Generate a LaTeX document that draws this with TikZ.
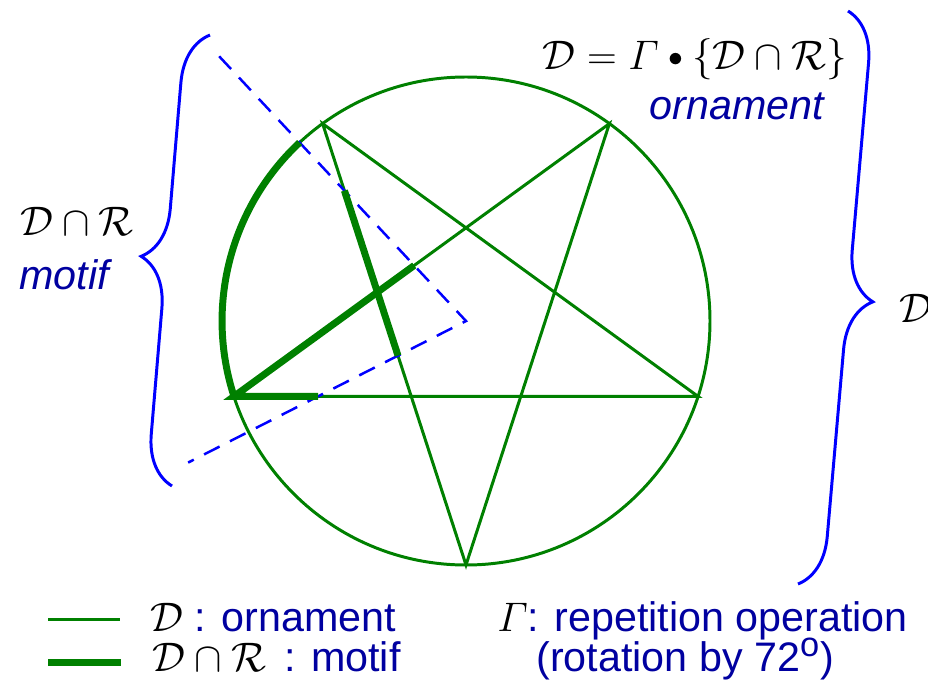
\documentclass[tikz,border=0pt]{standalone}
\usepackage{amsmath}
\usepackage{fontspec}
\newfontfamily\arialfont{Liberation Sans}
\usetikzlibrary{decorations.pathreplacing,calc}
\definecolor{ornGreen}{RGB}{0,128,0}
\definecolor{navyText}{RGB}{0,0,160}
\newcommand{\smallbul}{\mathbin{\vcenter{\hbox{\scalebox{0.72}{$\bullet$}}}}}

\begin{document}
\begin{tikzpicture}[scale=0.0212,
    orn/.style   = {draw=ornGreen, line width=1.8pt},
    motif/.style = {draw=ornGreen, line width=4.2pt},
    ray/.style   = {draw=blue, line width=1.5pt, dash pattern=on 10.5pt off 7pt},
    brc/.style   = {draw=blue, line width=1.8pt, decorate,
                    decoration={brace, amplitude=1.06cm}},
    lbl/.style   = {font=\Huge\arialfont, text=navyText, inner sep=0pt},
    ital/.style  = {font=\Huge\arialfont\itshape},
    mth/.style   = {font=\Huge, inner sep=0pt}
]
    \useasboundingbox (-466,-365) rectangle (462,321);

    %-- circle and pentagram ---------------------------------------------------
    \coordinate (O) at (0,0);
    \foreach \i/\a in {0/270,1/342,2/54,3/126,4/198}
        \coordinate (v\i) at (\a:244);
    \draw[orn] (O) circle[radius=244];
    \draw[orn] (v0) -- (v2) -- (v4) -- (v1) -- (v3) -- cycle;

    %-- region R (dashed) ------------------------------------------------------
    \coordinate (r1) at (133:362);
    \coordinate (r2) at (207:312);
    \draw[ray] (r1) -- (O) -- (r2);

    %-- motif = D cap R (thick) ------------------------------------------------
    \coordinate (m1) at (intersection of v4--v2 and O--r1);
    \coordinate (m2) at (intersection of v4--v1 and O--r2);
    \coordinate (m3) at (intersection of v3--v0 and O--r1);
    \coordinate (m4) at (intersection of v3--v0 and O--r2);
    \draw[motif] (m1) -- (v4) -- (m2);
    \draw[motif] (v4) arc[start angle=198, end angle=133, radius=244];
    \draw[motif] (m3) -- (m4);

    %-- braces -----------------------------------------------------------------
    \draw[brc] (-294,-165) -- (-256,286);
    \draw[brc] (382,310) -- (332,-263);

    %-- labels -----------------------------------------------------------------
    \node[mth, anchor=base] (eq) at (229,251)
          {$\mathcal{D}=\varGamma\smallbul\{\mathcal{D}\cap\mathcal{R}\}$};
    \node[lbl, ital, anchor=base] (orntxt) at (271,201) {ornament};
    \node[mth, anchor=base] (dr) at (-389,86) {$\mathcal{D}\cap\mathcal{R}$};
    \node[lbl, ital, anchor=base] (motiftxt) at (-402,31) {motif};
    \node[mth, anchor=base west] (dall) at (433,-1) {$\mathcal{D}$};

    %-- legend -----------------------------------------------------------------
    \coordinate (l1a) at (-418,-299);
    \coordinate (l1b) at (-346,-299);
    \coordinate (l2a) at (-418,-342);
    \coordinate (l2b) at (-345,-342);
    \draw[orn] (l1a) -- (l1b);
    \draw[motif] (l2a) -- (l2b);
    \node[lbl, anchor=base west] (leg1) at (-316,-310)
          {{\color{black}$\mathcal{D}$} : ornament};
    \node[lbl, anchor=base west] (leg2) at (-314,-350)
          {{\color{black}$\mathcal{D}\cap\mathcal{R}$}\ \,: motif};
    \node[lbl, anchor=base west] (leg3) at (31,-310)
          {{\color{black}$\varGamma$}: repetition operation};
    \node[lbl, anchor=base west] (leg4) at (70,-350)
          {(rotation by 72\textsuperscript{o})};
\end{tikzpicture}
\end{document}
